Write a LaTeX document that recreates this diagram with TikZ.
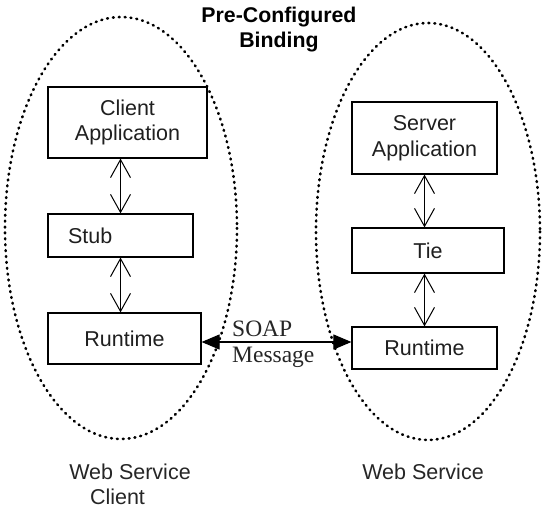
\documentclass[tikz,border=0pt]{standalone}
\usepackage{fontspec}
\setmainfont{Liberation Sans}
\newfontfamily\serifface{Liberation Serif}
\usetikzlibrary{arrows.meta}
\tikzset{
  box/.style={draw=black, line width=1.2pt, inner sep=0pt, align=center,
    font=\fontsize{21.5}{25.5}\selectfont, text=black!88},
  zone/.style={draw=black, line width=2.6pt, dash pattern=on 0.9pt off 5pt, line cap=round},
  dblv/.style={line width=1pt, {Straight Barb[length=18pt,width=20pt]}-{Straight Barb[length=18pt,width=20pt]}},
  soaparrow/.style={line width=1.1pt, {Triangle[length=18pt,width=15pt]}-{Triangle[length=18pt,width=15pt]}},
  lbl/.style={inner sep=0pt, font=\fontsize{21.5}{25.5}\selectfont, text=black!85},
  serlbl/.style={inner sep=0pt, font=\serifface\fontsize{23.5}{26}\selectfont, text=black!85, anchor=base west}
}
\begin{document}
\begin{tikzpicture}[x=1pt,y=-1pt]
\useasboundingbox[fill=white] (0,0) rectangle (542,508);
% zones
\draw[zone] (121,228) ellipse [x radius=116, y radius=211];
\draw[zone] (428,231.5) ellipse [x radius=112, y radius=208.5];
% title
\node[inner sep=0pt, align=center, font=\bfseries\fontsize{21.3}{25}\selectfont] (title) at (279,29.5) {Pre-Configured\\Binding};
% client side
\node[box, minimum width=159pt, minimum height=71pt] (capp) at (127.5,122.5) {Client\\Application};
\node[box, minimum height=43pt, text width=105pt, align=left, inner xsep=20pt] (stub) at (120.5,235.5) {Stub};
\node[box, minimum width=153pt, minimum height=51pt] (rtl) at (124.5,338.5) {Runtime};
% server side
\node[box, minimum width=145pt, minimum height=72pt] (sapp) at (424.5,138) {Server\\Application};
\node[box, minimum width=152pt, minimum height=45pt] (tie) at (428,250.5) {Tie};
\node[box, minimum width=145pt, minimum height=42pt] (rtr) at (424.5,348) {Runtime};
% vertical arrows
\draw[dblv] (stub.north) -- (stub.north |- capp.south);
\draw[dblv] (stub.south) -- (stub.south |- rtl.north);
\draw[dblv] (sapp.south) -- (sapp.south |- tie.north);
\draw[dblv] (rtr.north) -- (rtr.north |- tie.south);
% SOAP message
\coordinate (sy) at (0,342);
\draw[soaparrow] (sy -| rtl.east) -- (sy -| rtr.west);
\node[serlbl] (soap) at (232,337) {SOAP};
\node[serlbl] (msg) at (232,363) {Message};
% captions
\node[lbl] (wsc1) at (130,472) {Web Service};
\node[lbl] (wsc2) at (117.5,497) {Client};
\node[lbl] (ws) at (423,472) {Web Service};
\end{tikzpicture}
\end{document}
